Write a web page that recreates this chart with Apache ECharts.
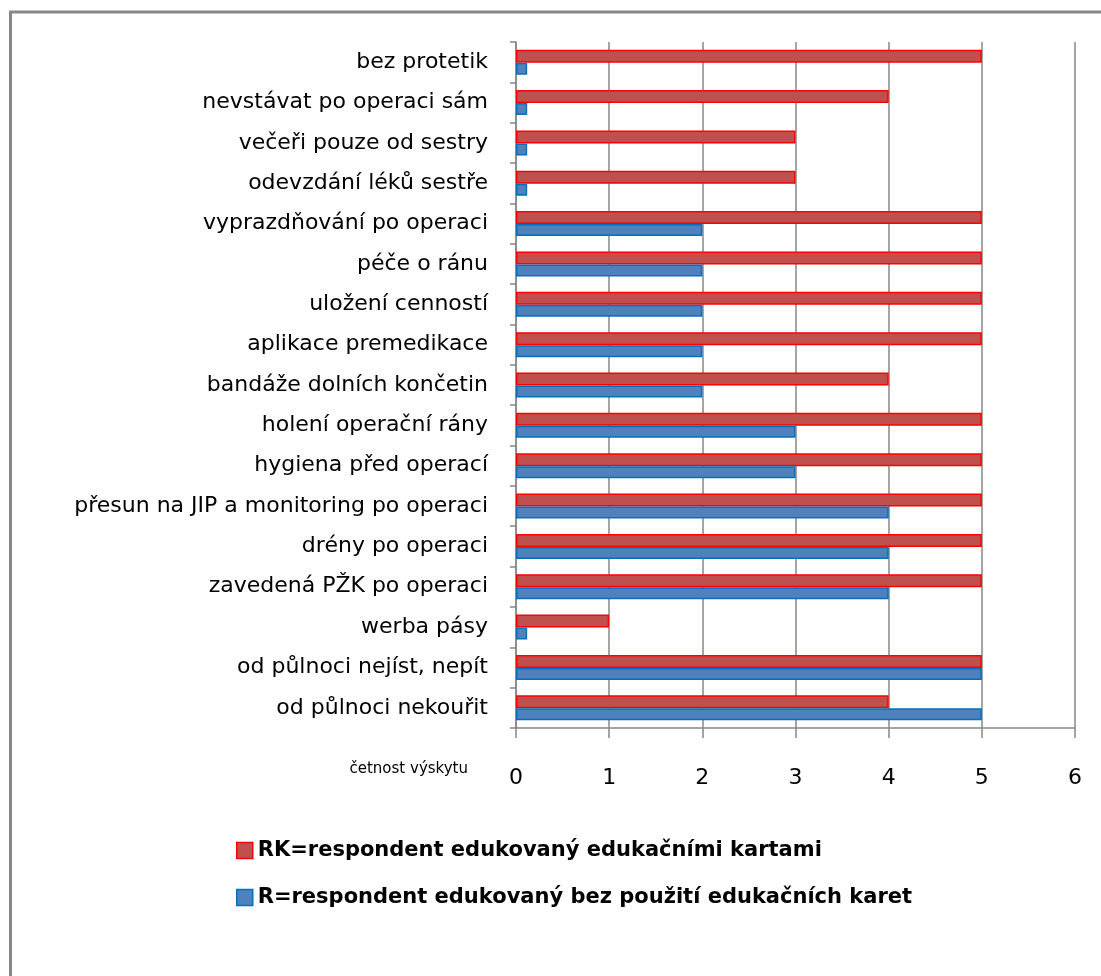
<!DOCTYPE html>
<html>
<head>
<meta charset="utf-8">
<script src="https://cdn.jsdelivr.net/npm/echarts@6/dist/echarts.min.js"></script>
<style>
  html, body { margin: 0; padding: 0; background: #fff; }
  #chart { width: 1101px; height: 976px; }
</style>
</head>
<body>
<div id="chart"></div>
<script>
// kategorie shora dolů
const categories = [
  'bez protetik',
  'nevstávat po operaci sám',
  'večeři pouze od sestry',
  'odevzdání léků sestře',
  'vyprazdňování po operaci',
  'péče o ránu',
  'uložení cenností',
  'aplikace premedikace',
  'bandáže dolních končetin',
  'holení operační rány',
  'hygiena před operací',
  'přesun na JIP a monitoring po operaci',
  'drény po operaci',
  'zavedená PŽK po operaci',
  'werba pásy',
  'od půlnoci nejíst, nepít',
  'od půlnoci nekouřit'
]
const seriesNames = [
  'RK=respondent edukovaný edukačními kartami',
  'R=respondent edukovaný bez použití edukačních karet'
]
const valuesRK = [5, 4, 3, 3, 5, 5, 5, 5, 4, 5, 5, 5, 5, 5, 1, 5, 4]
const valuesR = [0.12, 0.12, 0.12, 0.12, 2, 2, 2, 2, 2, 3, 3, 4, 4, 4, 0.12, 5, 5]
const xTicks = [0, 1, 2, 3, 4, 5, 6]
const axisTitle = 'četnost výskytu'

const chart = echarts.init(document.getElementById('chart'))
const font = '"DejaVu Sans", "Open Sans", sans-serif'

chart.setOption({
  animation: false,
  backgroundColor: '#fff',
  textStyle: { fontFamily: font },
  grid: {
    left: 516,
    right: 26,
    top: 42,
    bottom: 248
  },
  legend: {
    orient: 'vertical',
    left: 231,
    top: 835,
    itemWidth: 16,
    itemHeight: 16,
    itemGap: 26,
    selectedMode: false,
    textStyle: {
      color: '#000',
      fontSize: 21,
      fontWeight: 'bold',
      fontFamily: font
    },
    data: [
      { name: seriesNames[0], icon: 'rect', itemStyle: { color: '#C0504D', borderColor: '#FF0000', borderWidth: 1.5 } },
      { name: seriesNames[1], icon: 'rect', itemStyle: { color: '#4F81BD', borderColor: '#0070C0', borderWidth: 1.5 } }
    ]
  },
  xAxis: {
    type: 'value',
    min: xTicks[0],
    max: xTicks[xTicks.length - 1],
    interval: 1,
    axisLine: { show: true, lineStyle: { color: '#878787', width: 1.5 } },
    axisTick: { show: true, length: 10, lineStyle: { color: '#878787', width: 1.5 } },
    axisLabel: {
      color: '#000',
      fontSize: 22,
      margin: 39,
      fontFamily: font
    },
    splitLine: { show: true, lineStyle: { color: '#878787', width: 1.5 } }
  },
  yAxis: {
    type: 'category',
    inverse: true,
    data: categories,
    axisLine: { show: true, lineStyle: { color: '#878787', width: 1.5 } },
    axisTick: { show: true, length: 6, lineStyle: { color: '#878787', width: 1.5 } },
    axisLabel: {
      color: '#000',
      fontSize: 22,
      margin: 28,
      fontFamily: font
    }
  },
  graphic: [
    {
      type: 'polyline',
      shape: { points: [[10.5, 976], [10.5, 12], [1101, 12]] },
      style: { stroke: '#878787', lineWidth: 3, fill: null }
    },
    {
      type: 'text',
      right: 1101 - 468,
      top: 762,
      style: {
        text: axisTitle,
        fill: '#000',
        fontSize: 15,
        fontFamily: font
      }
    }
  ],
  series: [
    {
      name: seriesNames[0],
      type: 'bar',
      data: valuesRK,
      barWidth: 13,
      barGap: '0%',
      itemStyle: { color: '#C0504D', borderColor: '#FF0000', borderWidth: 1.5 }
    },
    {
      name: seriesNames[1],
      type: 'bar',
      data: valuesR,
      barWidth: 12,
      barGap: '0%',
      itemStyle: { color: '#4F81BD', borderColor: '#0070C0', borderWidth: 1.5 }
    }
  ]
})
</script>
</body>
</html>
